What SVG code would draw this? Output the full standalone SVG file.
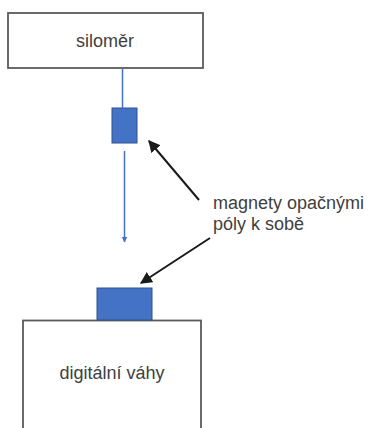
<svg xmlns="http://www.w3.org/2000/svg" width="371" height="428" viewBox="0 0 371 428">
  <defs>
    <style>
      .box { fill: #ffffff; stroke: #5a5a5a; stroke-width: 1.8; }
      .magnet { fill: #4472c4; stroke: #2f528f; stroke-width: 1; }
      .label { font-family: "Liberation Sans", Arial, sans-serif; font-size: 18px; fill: #404040; }
      .rod { stroke: #4472c4; stroke-width: 1.5; fill: none; }
      .pointer { stroke: #1a1a1a; stroke-width: 2; fill: none; }
    </style>
    <marker id="blueHead" viewBox="0 0 10 10" refX="9" refY="5" markerWidth="4" markerHeight="4" orient="auto" markerUnits="strokeWidth">
      <path d="M0,0 L10,5 L0,10 z" fill="#4472c4"/>
    </marker>
    <marker id="blackHead" viewBox="0 0 10 10" refX="9" refY="5" markerWidth="6" markerHeight="6" orient="auto" markerUnits="strokeWidth">
      <path d="M0,0 L10,5 L0,10 z" fill="#1a1a1a"/>
    </marker>
  </defs>
  <rect width="371" height="428" fill="#ffffff"/>

  <!-- force meter -->
  <g id="silomer">
    <rect class="box" x="8" y="13" width="195" height="55"/>
    <text class="label" x="105" y="47" text-anchor="middle">siloměr</text>
  </g>

  <!-- digital scale with its magnet on top -->
  <g id="vahy">
    <rect class="box" x="23" y="320.5" width="178" height="110"/>
    <text class="label" x="112" y="379" text-anchor="middle">digitální váhy</text>
  </g>
  <g id="magnet-bottom">
    <rect class="magnet" x="97" y="288" width="55" height="32"/>
  </g>

  <!-- hanging magnet -->
  <g id="magnet-top">
    <rect class="magnet" x="112" y="108" width="25" height="35"/>
  </g>

  <!-- note -->
  <g id="note">
    <text class="label" x="213" y="209">magnety opačnými</text>
    <text class="label" x="213" y="230">póly k sobě</text>
  </g>

  <g id="connectors">
    <line class="rod" x1="122.5" y1="68" x2="122.5" y2="108"/>
    <line class="rod" x1="124.5" y1="151" x2="124.5" y2="242" marker-end="url(#blueHead)"/>
    <line class="pointer" x1="199" y1="200" x2="149" y2="141" marker-end="url(#blackHead)"/>
    <line class="pointer" x1="210" y1="238" x2="141" y2="283" marker-end="url(#blackHead)"/>
  </g>
</svg>
